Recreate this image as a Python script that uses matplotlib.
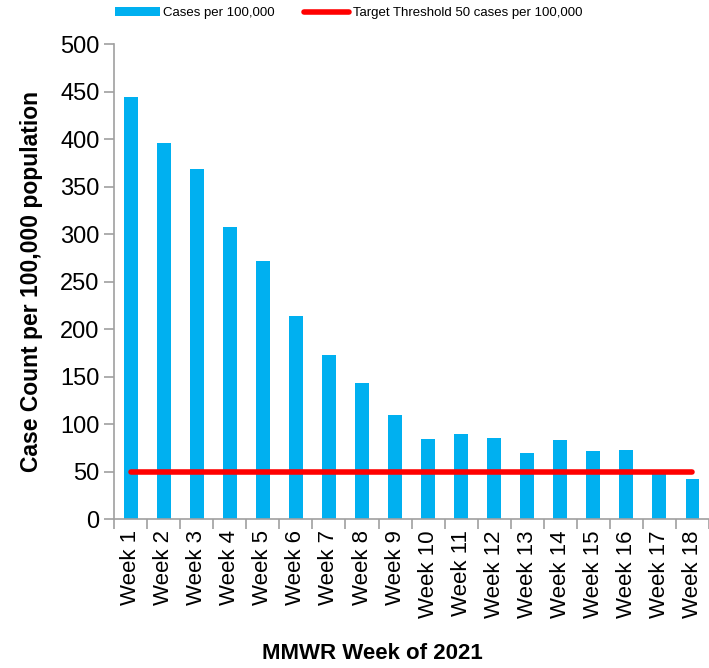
import numpy as np
import matplotlib
matplotlib.use("Agg")
import matplotlib.pyplot as plt

weeks = [f"Week {i}" for i in range(1, 19)]
cases = [444, 396, 368, 307, 272, 214, 173, 143, 110, 84, 90, 85, 70, 83, 72, 73, 49, 42]
threshold = [50] * len(weeks)

plt.rcParams["font.family"] = ["Liberation Sans", "DejaVu Sans"]

fig = plt.figure(figsize=(7.09, 6.68), dpi=100)
ax = fig.add_axes([0.161, 0.223, 0.839, 0.711])

x = np.arange(len(weeks))
bars = ax.bar(x, cases, width=0.42, color="#00B0F0", label="Cases per 100,000", zorder=2)
line, = ax.plot(x, threshold, color="#FF0000", linewidth=4, solid_capstyle="round",
                label="Target Threshold 50 cases per 100,000", zorder=3)

ax.set_xlim(-0.5, len(weeks) - 0.5)
ax.set_ylim(0, 500)
ax.set_yticks(np.arange(0, 501, 50))
ax.tick_params(axis="y", labelsize=17, length=7, color="#A0A0A0", width=1.2)

ax.set_xticks(x)
ax.set_xticklabels(weeks, rotation=90, fontsize=16)
ax.tick_params(axis="x", length=0, pad=8)
ax.set_xticks(np.arange(-0.5, len(weeks), 1), minor=True)
ax.tick_params(axis="x", which="minor", length=7, color="#A0A0A0", width=1.2)

for side in ["top", "right"]:
    ax.spines[side].set_visible(False)
for side in ["left", "bottom"]:
    ax.spines[side].set_color("#A0A0A0")
    ax.spines[side].set_linewidth(1.2)

ax.set_ylabel("Case Count per 100,000 population", fontsize=16.5, fontweight="bold")
ax.yaxis.set_label_coords(-0.119, 0.5)
ax.set_xlabel("MMWR Week of 2021", fontsize=16, fontweight="bold")
ax.xaxis.set_label_coords(0.434, -0.262)

fig.legend([bars, line], [bars.get_label(), line.get_label()],
           loc="upper left", bbox_to_anchor=(0.145, 1.007), ncol=2, frameon=False,
           fontsize=9.5, handlelength=3.4, columnspacing=2.2, handletextpad=0.3)

fig.savefig("out.png", dpi=100)
